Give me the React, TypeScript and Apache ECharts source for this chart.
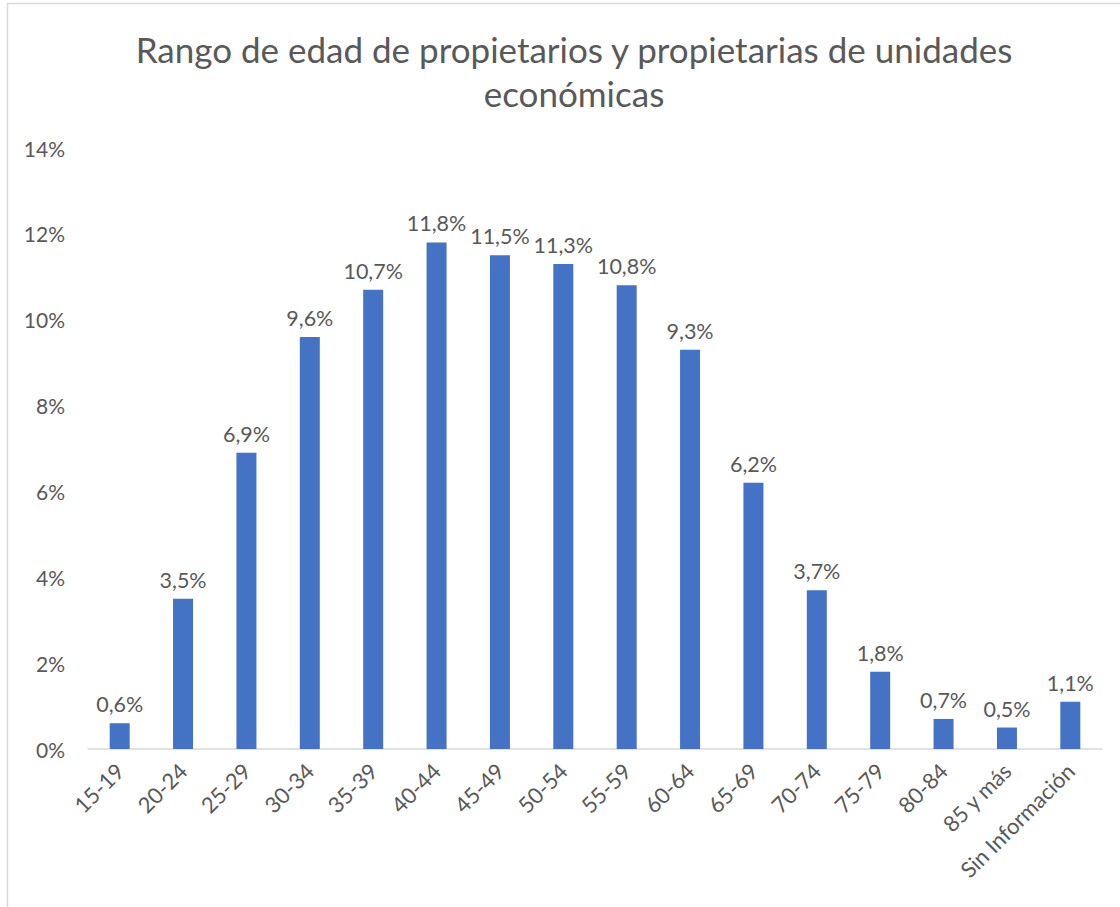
import React, { useEffect, useRef } from "react";
import * as echarts from "echarts";

const categories = ["15-19", "20-24", "25-29", "30-34", "35-39", "40-44", "45-49", "50-54", "55-59", "60-64", "65-69", "70-74", "75-79", "80-84", "85 y más", "Sin Información"];
const values = [0.6, 3.5, 6.9, 9.6, 10.7, 11.8, 11.5, 11.3, 10.8, 9.3, 6.2, 3.7, 1.8, 0.7, 0.5, 1.1];
const titleText = "Rango de edad de propietarios y propietarias de unidades\neconómicas";

const FONT = "Lato, 'Open Sans', sans-serif";
const TXT = "#595959";

export default function App() {
  const ref = useRef<HTMLDivElement>(null);
  useEffect(() => {
    if (!ref.current) return;
    const chart = echarts.init(ref.current, null, { renderer: "svg" });
    chart.setOption({
      animation: false,
      backgroundColor: "#ffffff",
      title: {
        text: titleText,
        left: 569,
        top: 22,
        textAlign: "center",
        textStyle: { color: TXT, fontFamily: FONT, fontSize: 35, fontWeight: "normal", lineHeight: 44 },
      },
      graphic: [
        {
          type: "rect",
          shape: { x: 7.5, y: 3.5, width: 1130, height: 920 },
          style: { fill: "none", stroke: "#D9D9D9", lineWidth: 1.5 },
          silent: true,
        },
      ],
      grid: { left: 88, right: 18, top: 148, bottom: 158, containLabel: false },
      xAxis: {
        type: "category",
        data: categories,
        axisLine: { show: true, lineStyle: { color: "#D9D9D9", width: 1.5 } },
        axisTick: { show: false },
        axisLabel: { rotate: 45, color: TXT, fontFamily: FONT, fontSize: 22, margin: 18, interval: 0 },
      },
      yAxis: {
        type: "value",
        min: 0,
        max: 14,
        interval: 2,
        splitLine: { show: false },
        axisLine: { show: false },
        axisTick: { show: false },
        axisLabel: { color: TXT, fontFamily: FONT, fontSize: 21, margin: 23, formatter: (v: number) => `${v}%` },
      },
      series: [
        {
          type: "bar",
          data: values,
          barWidth: 20,
          itemStyle: { color: "#4472C4" },
          label: {
            show: true,
            position: "top",
            distance: 8,
            color: TXT,
            fontFamily: FONT,
            fontSize: 21.5,
            formatter: (p: any) => `${p.value.toFixed(1).replace(".", ",")}%`,
          },
        },
      ],
    });
    return () => chart.dispose();
  }, []);
  return <div ref={ref} style={{ position: "absolute", left: 0, top: 0, width: 1120, height: 907 }} />;
}
